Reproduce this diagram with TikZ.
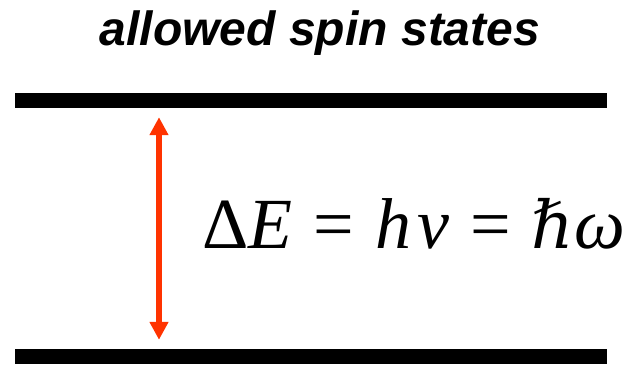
\documentclass[tikz,border=0pt]{standalone}
\usepackage{fontspec}
\setmainfont{Liberation Serif}
\newfontfamily\titlefont{Liberation Sans}
\newfontfamily\hbarfont{DejaVu Serif}
\usetikzlibrary{arrows.meta,positioning}
\definecolor{rougeorange}{RGB}{255,51,0}

\begin{document}
\begin{tikzpicture}[x=1pt,y=-1pt]
\useasboundingbox (0,0) rectangle (630,365);
\tikzset{level/.style={fill=black, inner sep=0pt, minimum width=592pt, minimum height=15pt}}
\def\xarrow{159}
\def\eqgap{\hspace{21pt}}

\node[font=\titlefont\fontsize{48}{58}\selectfont\bfseries\itshape, anchor=base] (title) at (320,45) {allowed spin states};

\node[level] (upper) at (311,100.5) {};
\node[level] (lower) at (311,356.5) {};
\coordinate (axis) at (\xarrow,0);

\draw[rougeorange, line width=6pt, {Triangle[width=18pt,length=18pt]}-{Triangle[width=18pt,length=18pt]}, shorten <=9pt, shorten >=9pt] (upper.south -| axis) -- (lower.north -| axis);

\node[font=\fontsize{72}{80}\selectfont, anchor=base west, inner sep=0pt] (energy) at (202,248) {Δ\textit{E}\eqgap=\eqgap\textit{h}\hspace{6pt}\textit{ν}\eqgap=\eqgap{\hbarfont\itshape\fontsize{66}{74}\selectfont ℏ}\textit{ω}};
\end{tikzpicture}
\end{document}
